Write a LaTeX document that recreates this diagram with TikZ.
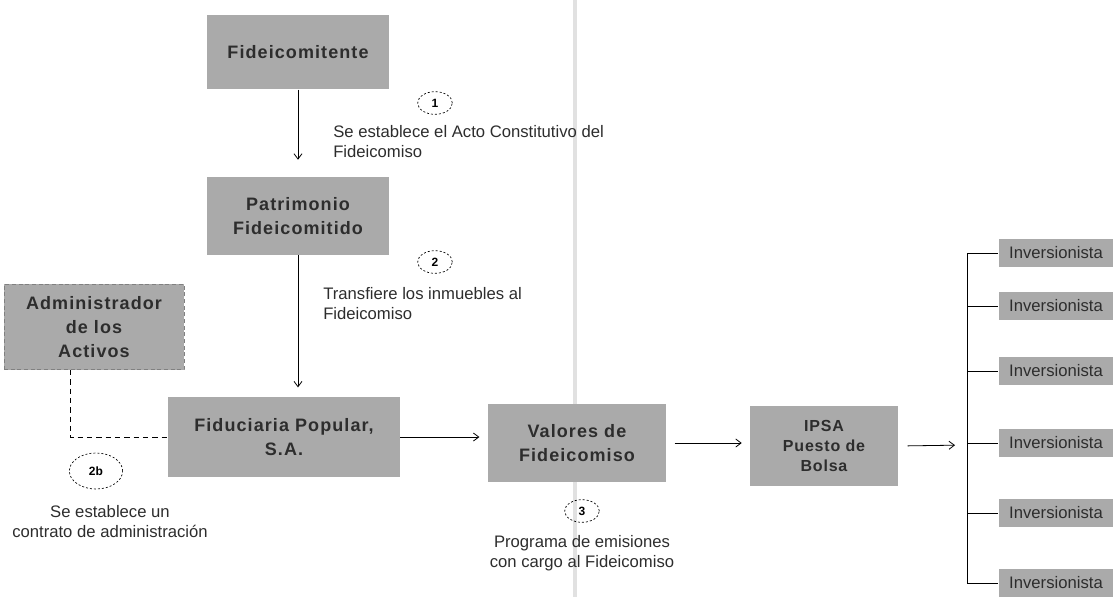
\documentclass[tikz,border=0pt]{standalone}
\usepackage{fontspec}
\setmainfont{Liberation Sans}
\usetikzlibrary{positioning,arrows.meta,shapes.geometric}
\definecolor{boxgray}{RGB}{170,170,170}
\definecolor{txtgray}{RGB}{45,45,45}
\definecolor{gutter}{RGB}{225,225,225}

\begin{document}
\begin{tikzpicture}[x=0.75pt,y=0.75pt,yscale=-1,xscale=1,
  gbox/.style={fill=boxgray, draw=none, align=center, text=txtgray, inner sep=0pt,
    font=\fontsize{13.5}{18}\selectfont\bfseries\addfontfeature{LetterSpace=6}},
  dbox/.style={gbox, draw=gray, dashed, dash pattern=on 3pt off 2pt},
  invbox/.style={fill=boxgray, draw=none, text=txtgray, inner sep=0pt,
    minimum width=86pt, minimum height=21pt, font=\fontsize{12.5}{14}\selectfont},
  stepnum/.style={ellipse, draw=black, dashed, dash pattern=on 1.5pt off 1.5pt, line width=0.5pt,
    inner sep=0pt, font=\fontsize{9}{10}\selectfont\bfseries},
  note/.style={align=left, text=txtgray, inner sep=0pt, font=\fontsize{12.5}{15}\selectfont},
  arr/.style={->, >={Straight Barb[length=4pt,width=6pt]}, line width=0.6pt},
  link/.style={line width=0.6pt}]
%set diagram size
\useasboundingbox (0,0) rectangle (1114,597);

%page gutter
\draw [gutter, line width=2.5pt] (575,0) -- (575,597);

% Boxes
\node [gbox, minimum width=137pt, minimum height=56pt] (fideicomitente) at (298,52) {Fideicomitente};
\node [gbox, minimum width=137pt, minimum height=58pt] (patrimonio) at (298,216) {Patrimonio\\Fideicomitido};
\node [dbox, minimum width=135pt, minimum height=64pt] (administrador) at (94,327) {Administrador\\de los\\Activos};
\node [gbox, minimum width=174pt, minimum height=60pt] (fiduciaria) at (284,437) {Fiduciaria Popular,\\S.A.};
\node [gbox, minimum width=134pt, minimum height=58pt] (valores) at (577,443) {Valores de\\Fideicomiso};
\node [gbox, minimum width=111pt, minimum height=60pt, font=\fontsize{12}{15}\selectfont\bfseries\addfontfeature{LetterSpace=5}] (ipsa) at (824,446) {IPSA\\Puesto de\\Bolsa};

% Inversionistas
\foreach \i/\y in {1/253,2/306,3/371,4/443,5/513,6/583}
  \node [invbox] (inv\i) at (1056,\y) {Inversionista};

% Step marks and notes
\node [stepnum, minimum width=26pt, minimum height=17pt] (paso1) at (435,103) {1};
\node [note, anchor=north west] (nota1) at (333,125) {Se establece el Acto Constitutivo del\\Fideicomiso};
\node [stepnum, minimum width=26pt, minimum height=17pt] (paso2) at (435,262) {2};
\node [note, anchor=north west] (nota2) at (323,287) {Transfiere los inmuebles al\\Fideicomiso};
\node [stepnum, minimum width=40pt, minimum height=27pt] (paso2b) at (96,471) {2b};
\node [note, align=center, anchor=north] (nota2b) at (110,505) {Se establece un\\contrato de administración};
\node [stepnum, minimum width=26pt, minimum height=17pt] (paso3) at (582,511) {3};
\node [note, align=center, anchor=north] (nota3) at (582,535) {Programa de emisiones\\con cargo al Fideicomiso};

% Connectors
\draw [arr, shorten >=13pt] (fideicomitente) -- (patrimonio);
\draw [arr, shorten >=7pt] (patrimonio) -- (fiduciaria.north -| patrimonio);
\draw [link, dashed, dash pattern=on 4pt off 3pt] (administrador.south -| 70,0) |- (fiduciaria.west);
\draw [arr, shorten >=6pt] (fiduciaria) -- (fiduciaria -| valores.west);
\draw [arr, shorten <=6pt, shorten >=6pt] (valores.east) -- (valores.east -| ipsa.west);
\coordinate (bus) at (967,445);
\draw [arr, shorten <=7pt, shorten >=9pt] (ipsa.east) -- (bus);
\foreach \i in {1,...,6}
  \draw [link] (bus) |- (inv\i.west);

\end{tikzpicture}
\end{document}
